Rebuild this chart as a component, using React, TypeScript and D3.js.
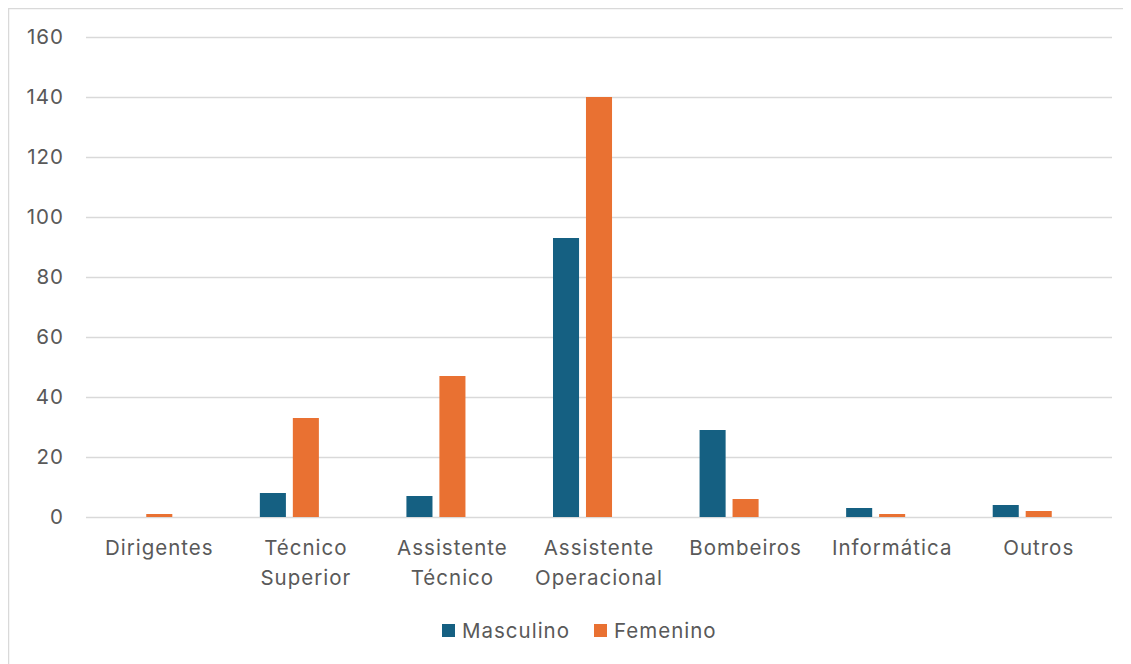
import React, { useEffect, useRef } from "react";
import * as d3 from "d3";

// Categories (two-line labels split on "\n")
const categories = [
  "Dirigentes",
  "Técnico\nSuperior",
  "Assistente\nTécnico",
  "Assistente\nOperacional",
  "Bombeiros",
  "Informática",
  "Outros",
];

const masculino = [0, 8, 7, 93, 29, 3, 4];
const femenino = [1, 33, 47, 140, 6, 1, 2];

const seriesNames = ["Masculino", "Femenino"];
// third slot is an empty series in the original workbook
const slots = ["Masculino", "Femenino", "blank"];
const yTicks = [0, 20, 40, 60, 80, 100, 120, 140, 160];

const App: React.FC = () => {
  const svgRef = useRef<SVGSVGElement>(null);

  useEffect(() => {
    document.body.style.overflow = "hidden";
    if (!svgRef.current) return;
    const svg = d3.select(svgRef.current);
    svg.selectAll("*").remove();

    const font = "Inter, 'Noto Sans', sans-serif";
    const fontSize = 20.5;
    const spacing = 1;
    const textColor = "#595959";
    const gridColor = "#d9d9d9";
    const colors: { [k: string]: string } = {
      Masculino: "#156082",
      Femenino: "#E97132",
    };

    // outer chart border (only top/left fall inside the window)
    svg.append("rect")
      .attr("x", 0.5)
      .attr("y", 0.5)
      .attr("width", 1200)
      .attr("height", 800)
      .attr("fill", "white")
      .attr("stroke", gridColor)
      .attr("stroke-width", 1.5);

    const plot = { left: 78, right: 1104, top: 29, bottom: 509 };

    const y = d3.scaleLinear().domain([0, 160]).range([plot.bottom, plot.top]);

    const x0 = d3.scaleBand<string>()
      .domain(categories)
      .range([plot.left, plot.right])
      .paddingInner(0.325)
      .paddingOuter(0.1625);

    const x1 = d3.scaleBand<string>()
      .domain(slots)
      .range([0, x0.bandwidth()])
      .paddingInner(0.21)
      .paddingOuter(0.105);

    // grid lines
    svg.append("g")
      .selectAll("line")
      .data(yTicks)
      .join("line")
      .attr("x1", plot.left)
      .attr("x2", plot.right)
      .attr("y1", d => Math.round(y(d)) + 0.5)
      .attr("y2", d => Math.round(y(d)) + 0.5)
      .attr("stroke", gridColor)
      .attr("stroke-width", 1.3);

    // y labels
    svg.append("g")
      .selectAll("text")
      .data(yTicks)
      .join("text")
      .attr("x", 56)
      .attr("y", d => y(d) + 7)
      .attr("text-anchor", "end")
      .attr("font-family", font)
      .attr("font-size", fontSize)
      .attr("letter-spacing", spacing)
      .attr("fill", textColor)
      .text(d => d);

    // bars
    const groups = svg.append("g")
      .selectAll("g")
      .data(categories)
      .join("g")
      .attr("transform", d => `translate(${x0(d)},0)`);

    groups.each(function (cat, i) {
      const g = d3.select(this);
      const vals = [masculino[i], femenino[i]];
      seriesNames.forEach((s, j) => {
        const v = vals[j];
        if (v <= 0) return;
        g.append("rect")
          .attr("x", x1(s) as number)
          .attr("width", x1.bandwidth())
          .attr("y", y(v))
          .attr("height", y(0) - y(v))
          .attr("fill", colors[s]);
      });
    });

    // x labels
    svg.append("g")
      .selectAll("text")
      .data(categories)
      .join("text")
      .attr("x", d => (x0(d) as number) + x0.bandwidth() / 2)
      .attr("y", 547)
      .attr("text-anchor", "middle")
      .attr("font-family", font)
      .attr("font-size", fontSize)
      .attr("letter-spacing", spacing)
      .attr("fill", textColor)
      .each(function (d) {
        const t = d3.select(this);
        d.split("\n").forEach((line, k) => {
          t.append("tspan")
            .attr("x", t.attr("x"))
            .attr("dy", k === 0 ? 0 : 30)
            .text(line);
        });
      });

    // legend
    const legendItems = [
      { name: "Masculino", x: 434 },
      { name: "Femenino", x: 586 },
    ];
    const legend = svg.append("g");
    legendItems.forEach(item => {
      legend.append("rect")
        .attr("x", item.x)
        .attr("y", 616)
        .attr("width", 13)
        .attr("height", 13)
        .attr("fill", colors[item.name]);
      legend.append("text")
        .attr("x", item.x + 20)
        .attr("y", 630)
        .attr("font-family", font)
        .attr("font-size", fontSize)
        .attr("letter-spacing", spacing)
        .attr("fill", textColor)
        .text(item.name);
    });
  }, []);

  return (
    <svg
      ref={svgRef}
      width={1140}
      height={670}
      style={{ display: "block" }}
    />
  );
};

export default App;
